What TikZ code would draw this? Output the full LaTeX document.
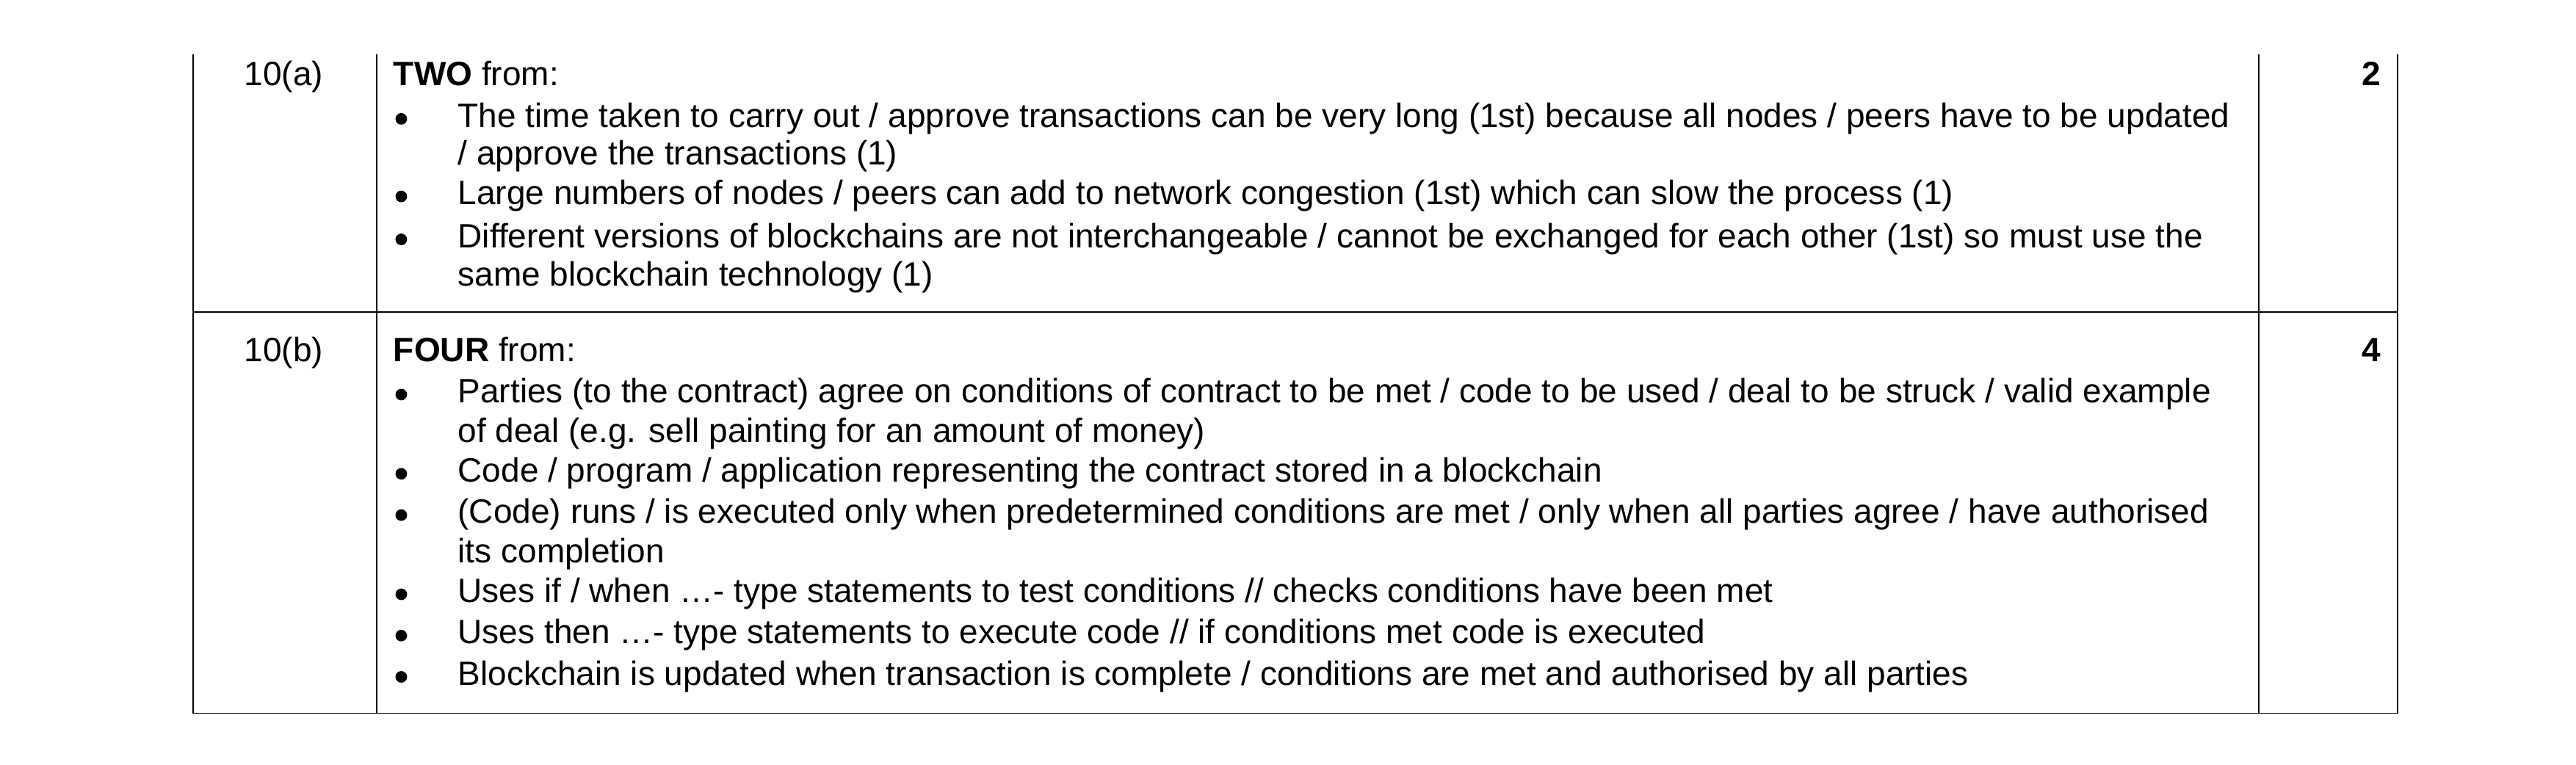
\documentclass[tikz,border=0pt]{standalone}
\usepackage{fontspec}
\setmainfont{Liberation Sans}
\begin{document}
\begin{tikzpicture}[x=0.02249cm,y=-0.02249cm,
  t/.style={anchor=base west,inner sep=0pt,font=\fontsize{13.1}{15}\selectfont},
  num/.style={anchor=base east,inner sep=0pt,font=\fontsize{13.1}{15}\selectfont},
  mk/.style={anchor=base,inner sep=0pt,font=\fontsize{13.1}{15}\selectfont\bfseries},
  b/.style={fill,circle,inner sep=0pt,minimum size=4.5pt},
  rule/.style={line width=0.5pt}]
\useasboundingbox (0,0) rectangle (1560,463);
\draw[rule] (117,33) -- (117,432) -- (1452,432) -- (1452,33);
\draw[rule] (228,33) -- (228,432);
\draw[rule] (1368,33) -- (1368,432);
\draw[rule] (117,189) -- (1452,189);
% row a
\node[num] (na) at (196,52) {10(a)};
\node[mk] (ma) at (1436,52) {2};
\node[t] (ha) at (238,52) {\textbf{TWO} from:};
\foreach \y/\s [count=\i] in {
 77/{The time taken to carry out / approve transactions can be very long (1st) because all nodes / peers have to be updated},
 100/{/ approve the transactions (1)},
 124/{Large numbers of nodes / peers can add to network congestion (1st) which can slow the process (1)},
 150/{Different versions of blockchains are not interchangeable / cannot be exchanged for each other (1st) so must use the},
 173/{same blockchain technology (1)}}
 {\node[t] (a\i) at (277,\y) {\s};}
\foreach \y [count=\i] in {72,119,145} \node[b] (ba\i) at (243,\y) {};
% row b
\node[num] (nb) at (196,219) {10(b)};
\node[mk] (mb) at (1436,219) {4};
\node[t] (hb) at (238,219) {\textbf{FOUR} from:};
\foreach \y/\s [count=\i] in {
 244/{Parties (to the contract) agree on conditions of contract to be met / code to be used / deal to be struck / valid example},
 268/{of deal (e.g. sell painting for an amount of money)},
 292/{Code / program / application representing the contract stored in a blockchain},
 317/{(Code) runs / is executed only when predetermined conditions are met / only when all parties agree / have authorised},
 341/{its completion},
 365/{Uses if / when …- type statements to test conditions // checks conditions have been met},
 390/{Uses then …- type statements to execute code // if conditions met code is executed},
 415/{Blockchain is updated when transaction is complete / conditions are met and authorised by all parties}}
 {\node[t] (b\i) at (277,\y) {\s};}
\foreach \y [count=\i] in {239,287,312,360,385,410} \node[b] (bb\i) at (243,\y) {};
\end{tikzpicture}
\end{document}
